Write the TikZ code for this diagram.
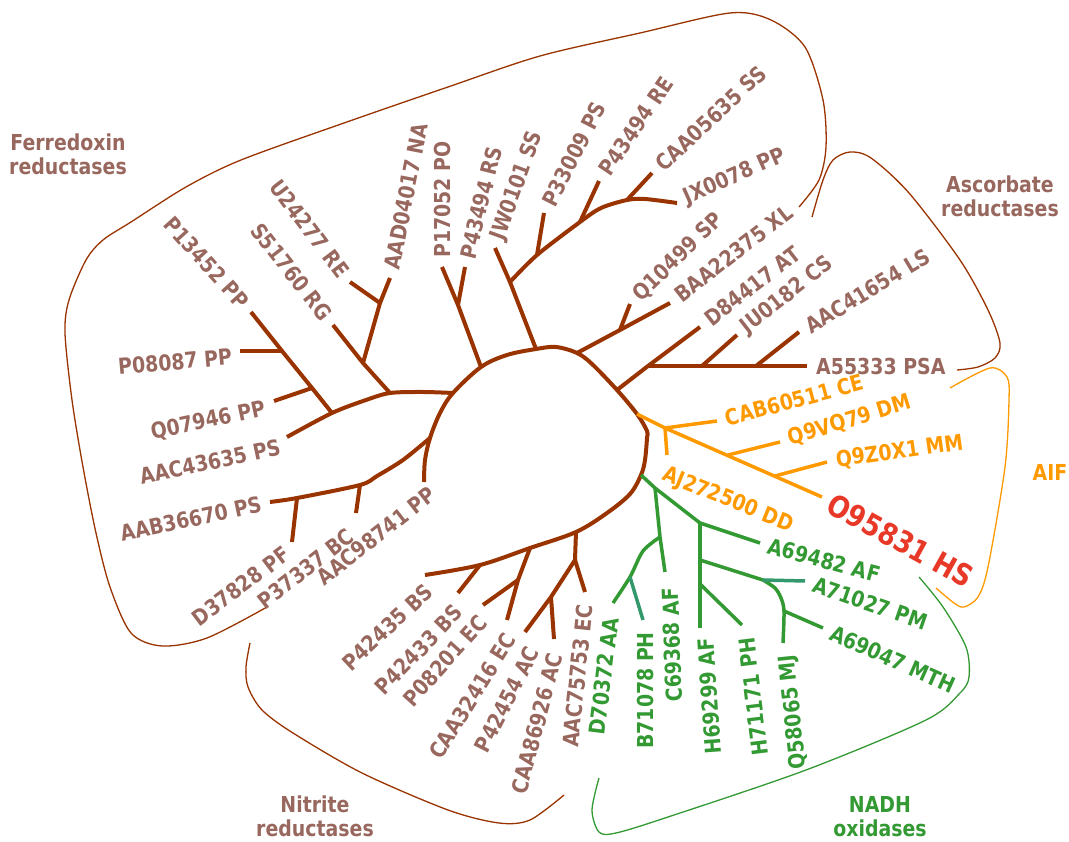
\documentclass[tikz,border=0pt]{standalone}
\usepackage{fontspec}
\setmainfont{DejaVu Sans}[FakeStretch=0.86]
\usepackage{tikz}
\definecolor{brn}{RGB}{153,51,0}
\definecolor{rose}{RGB}{152,104,95}
\definecolor{aif}{RGB}{255,153,0}
\definecolor{nadh}{RGB}{51,153,51}
\definecolor{nteal}{RGB}{51,153,108}
\definecolor{hs}{RGB}{232,56,40}
\tikzset{
  br/.style={line width=4pt, line join=round},
  bs/.style={line width=3.5pt, line join=round},
  grp/.style={line width=1.3pt},
  lf/.style={inner sep=0pt, inner xsep=9pt, font=\bfseries\fontsize{22}{24}\selectfont},
  gl/.style={align=center, inner sep=0pt, font=\bfseries\fontsize{22}{24}\selectfont},
}

\begin{document}
\begin{tikzpicture}[x=1pt,y=-1pt]
	\useasboundingbox (0,0) rectangle (1069,842);

	% central loop
	\coordinate (t1) at (424,482);
	\coordinate (l1) at (430,438);
	\coordinate (l2) at (453,393);
	\coordinate (l3) at (481,367);
	\coordinate (l4) at (536,349);
	\coordinate (l5) at (577,353);
	\coordinate (l6) at (617,390);
	\coordinate (l7) at (637,414);
	\coordinate (l8) at (641,475);
	\coordinate (l9) at (576,532);
	\coordinate (l10) at (530,548);
	\coordinate (l11) at (480,565);
	\coordinate (t2) at (425,575);
	\draw[br,brn] plot[smooth,tension=0.55] coordinates {(t1) (425,460) (l1) (440,413) (l2) (l3) (507,355) (l4) (556,347) (l5) (592,364) (l6) (l7) (647,431) (647,438) (645,460) (l8) (630,494) (607,513) (l9) (l10) (l11) (t2)};

	% ferredoxin
	\coordinate (f1) at (390,393);
	\coordinate (f2) at (332,413);
	\coordinate (t3) at (287,437);
	\coordinate (f3) at (312,388);
	\coordinate (f4) at (282,351);
	\coordinate (t4) at (251,312);
	\coordinate (t5) at (274,401);
	\coordinate (t6) at (240,351);
	\coordinate (f5) at (363,363);
	\coordinate (t7) at (333,325);
	\coordinate (f6) at (380,303);
	\coordinate (t8) at (390,278);
	\coordinate (t9) at (350,282);
	\coordinate (f7) at (458,305);
	\coordinate (t10) at (442,267);
	\coordinate (t11) at (465,267);
	\coordinate (f8) at (510,282);
	\coordinate (t12) at (495,248);
	\coordinate (f9) at (537,255);
	\coordinate (t13) at (544,213);
	\coordinate (f10) at (580,222);
	\coordinate (t14) at (599,181);
	\coordinate (f11) at (627,200);
	\coordinate (t15) at (652,173);
	\coordinate (t16) at (677,203);
	\coordinate (f16) at (360,485);
	\coordinate (f17) at (297,498);
	\coordinate (t43) at (270,502);
	\coordinate (t44) at (292,542);
	\coordinate (t45) at (356,513);
	\draw[br,brn] plot[smooth] coordinates {(l2) (423,392) (f1) (366,400) (f2) (t3)};
	\draw[br,brn] (f2)--(f3)--(f4)--(t4);
	\draw[br,brn] (f3)--(t5);
	\draw[br,brn] (f4)--(t6);
	\draw[br,brn] (f1)--(f5)--(t7);
	\draw[br,brn] (f5)--(f6)--(t8);
	\draw[br,brn] (f6)--(t9);
	\draw[br,brn] (l3)--(f7)--(t10);
	\draw[br,brn] (f7)--(t11);
	\draw[br,brn] (l4)--(f8)--(t12);
	\draw[br,brn] plot[smooth] coordinates {(f8) (f9) (f10) (601,208) (f11) (645,199) (t16)};
	\draw[br,brn] (f9)--(t13);
	\draw[br,brn] (f10)--(t14);
	\draw[br,brn] (f11)--(t15);
	\draw[br,brn] plot[smooth] coordinates {(l1) (403,460) (377,476) (f16) (f17) (t43)};
	\draw[br,brn] (f17)--(t44);
	\draw[br,brn] (f16)--(t45);

	% ascorbate
	\coordinate (f12) at (620,330);
	\coordinate (t17) at (670,303);
	\coordinate (t18) at (630,304);
	\coordinate (f13) at (648,366);
	\coordinate (t19) at (700,327);
	\coordinate (f14) at (702,366);
	\coordinate (f15) at (756,366);
	\coordinate (t20) at (807,366);
	\coordinate (t21) at (737,335);
	\coordinate (t22) at (799,332);
	\draw[br,brn] (l5)--(f12)--(t17);
	\draw[br,brn] (f12)--(t18);
	\draw[br,brn] (l6)--(f13)--(t19);
	\draw[br,brn] (f13)--(t20);
	\draw[br,brn] (f14)--(t21);
	\draw[br,brn] (f15)--(t22);

	% AIF
	\coordinate (a1) at (665,428);
	\coordinate (a2) at (728,455);
	\coordinate (a3) at (775,476);
	\coordinate (t23) at (822,497);
	\coordinate (t24) at (717,421);
	\coordinate (t25) at (667,455);
	\coordinate (t26) at (780,442);
	\coordinate (t27) at (827,462);
	\draw[bs,aif] (l7)--(a1)--(t23);
	\draw[bs,aif] (a1)--(t24);
	\draw[bs,aif] (a1)--(t25);
	\draw[bs,aif] (a2)--(t26);
	\draw[bs,aif] (a3)--(t27);

	% NADH
	\coordinate (g1) at (655,488);
	\coordinate (g2) at (700,523);
	\coordinate (g3) at (660,537);
	\coordinate (t28) at (665,572);
	\coordinate (g4) at (630,577);
	\coordinate (t29) at (613,603);
	\coordinate (t30) at (643,620);
	\coordinate (t31) at (760,543);
	\coordinate (g5) at (700,560);
	\coordinate (g6) at (700,584);
	\coordinate (t32) at (700,628);
	\coordinate (g7) at (763,580);
	\coordinate (g8) at (784,611);
	\coordinate (t33) at (783,643);
	\coordinate (t34) at (805,581);
	\coordinate (t35) at (823,628);
	\coordinate (t36) at (742,625);
	\draw[bs,nadh] (l8)--(g1)--(g2);
	\draw[bs,nadh] (g1)--(g3)--(t28);
	\draw[bs,nadh] plot[smooth] coordinates {(g3) (643,551) (g4) (t29)};
	\draw[bs,nteal] (g4)--(t30);
	\draw[bs,nadh] (g2)--(t31);
	\draw[bs,nadh] (g2)--(t32);
	\draw[bs,nadh] (g5)--(g7);
	\draw[bs,nadh] plot[smooth] coordinates {(g7) (775,588) (781,598) (g8) (t33)};
	\draw[bs,nteal] (g7)--(t34);
	\draw[bs,nadh] (g8)--(t35);
	\draw[bs,nadh] (g6)--(t36);

	% nitrite
	\coordinate (r1) at (575,560);
	\coordinate (r2) at (551,597);
	\coordinate (t37) at (525,632);
	\coordinate (t38) at (554,639);
	\coordinate (t39) at (585,592);
	\coordinate (r3) at (518,580);
	\coordinate (t40) at (507,620);
	\coordinate (t41) at (483,605);
	\coordinate (t42) at (458,593);
	\draw[br,brn] (l9)--(r1)--(r2)--(t37);
	\draw[br,brn] (r2)--(t38);
	\draw[br,brn] (r1)--(t39);
	\draw[br,brn] (l10)--(r3)--(t40);
	\draw[br,brn] (r3)--(t41);
	\draw[br,brn] (l11)--(t42);

	% group outlines
	\draw[grp,brn] plot[smooth] coordinates {(267,607) (207,638) (162,646) (131,633) (110,587) (96,533) (83,467) (72,400) (65,333) (69,300) (86,260) (103,240) (131,222) (186,187) (241,160) (344,123) (448,87) (540,56) (640,33) (730,13) (771,20) (805,47) (823,100) (826,147) (819,180) (799,207)};
	\draw[grp,brn] plot[smooth] coordinates {(812,217) (823,180) (833,160) (850,152) (871,158) (909,193) (960,260) (988,310) (1000,343) (995,358) (978,367) (957,370)};
	\draw[grp,aif] plot[smooth] coordinates {(950,388) (990,368) (1007,377) (1009,400) (1005,467) (988,567) (978,597) (964,607) (954,603) (936,588)};
	\draw[grp,nadh] plot[smooth] coordinates {(919,577) (943,607) (966,647) (969,677) (960,693) (926,720) (806,770) (668,817) (616,833) (599,832) (592,810) (599,778)};
	\draw[grp,brn] plot[smooth] coordinates {(250,643) (246,667) (248,687) (262,710) (293,733) (362,773) (448,810) (499,823) (530,820) (564,795)};

	% leaf labels
	\node[lf,rose,anchor=east,rotate=5] (nP08087) at (241,356) {P08087 PP};
	\node[lf,rose,anchor=east,rotate=12] (nQ07946) at (274,407) {Q07946 PP};
	\node[lf,rose,anchor=east,rotate=12] (nAAC43635) at (289,445) {AAC43635 PS};
	\node[lf,rose,anchor=east,rotate=12] (nAAB36670) at (t43) {AAB36670 PS};
	\node[lf,rose,anchor=east,rotate=37] (nD37828) at (294,546) {D37828 PF};
	\node[lf,rose,anchor=east,rotate=38] (nP37337) at (358,528) {P37337 BC};
	\node[lf,rose,anchor=east,rotate=38] (nAAC98741) at (440,486) {AAC98741 PP};
	\node[lf,rose,anchor=east,rotate=-48] (nP13452) at (t4) {P13452 PP};
	\node[lf,rose,anchor=east,rotate=-52] (nS51760) at (t7) {S51760 RG};
	\node[lf,rose,anchor=east,rotate=-53] (nU24277) at (t9) {U24277 RE};
	\node[lf,rose,anchor=west,rotate=79] (nAAD04017) at (t8) {AAD04017 NA};
	\node[lf,rose,anchor=west,rotate=90] (nP17052) at (t10) {P17052 PO};
	\node[lf,rose,anchor=west,rotate=76] (nP43494a) at (t11) {P43494 RS};
	\node[lf,rose,anchor=west,rotate=70] (nJW0101) at (t12) {JW0101 SS};
	\node[lf,rose,anchor=west,rotate=63] (nP33009) at (t13) {P33009 PS};
	\node[lf,rose,anchor=west,rotate=56] (nP43494b) at (t14) {P43494 RE};
	\node[lf,rose,anchor=west,rotate=43] (nCAA05635) at (t15) {CAA05635 SS};
	\node[lf,rose,anchor=west,rotate=24] (nJX0078) at (t16) {JX0078 PP};

	\node[lf,rose,anchor=west,rotate=44] (nQ10499) at (t18) {Q10499 SP};
	\node[lf,rose,anchor=west,rotate=38] (nBAA22375) at (t17) {BAA22375 XL};
	\node[lf,rose,anchor=west,rotate=38] (nD84417) at (t19) {D84417 AT};
	\node[lf,rose,anchor=west,rotate=38] (nJU0182) at (t21) {JU0182 CS};
	\node[lf,rose,anchor=west,rotate=31] (nAAC41654) at (t22) {AAC41654 LS};
	\node[lf,rose,anchor=west] (nA55333) at (t20) {A55333 PSA};

	\node[lf,aif,anchor=west,rotate=15] (nCAB60511) at (t24) {CAB60511 CE};
	\node[lf,aif,anchor=west,rotate=17] (nQ9VQ79) at (t26) {Q9VQ79 DM};
	\node[lf,aif,anchor=west,rotate=8] (nQ9Z0X1) at (t27) {Q9Z0X1 MM};
	\node[lf,hs,anchor=west,rotate=-29,font=\bfseries\fontsize{30}{32}\selectfont] (nO95831) at (t23) {O95831 HS};
	\node[lf,aif,anchor=west,rotate=-22] (nAJ272500) at (655,471) {AJ272500 DD};

	\node[lf,nadh,anchor=east,rotate=83] (nD70372) at (612,609) {D70372 AA};
	\node[lf,nadh,anchor=east,rotate=90] (nB71078) at (645,623) {B71078 PH};
	\node[lf,nadh,anchor=east,rotate=92] (nC69368) at (670,579) {C69368 AF};
	\node[lf,nadh,anchor=east,rotate=94] (nH69299) at (705,629) {H69299 AF};
	\node[lf,nadh,anchor=east,rotate=97] (nH71171) at (745,629) {H71171 PH};
	\node[lf,nadh,anchor=east,rotate=96] (nQ58065) at (787,646) {Q58065 MJ};
	\node[lf,nadh,anchor=west,rotate=-15] (nA69482) at (t31) {A69482 AF};
	\node[lf,nadh,anchor=west,rotate=-19] (nA71027) at (t34) {A71027 PM};
	\node[lf,nadh,anchor=west,rotate=-24] (nA69047) at (t35) {A69047 MTH};

	\node[lf,rose,anchor=east,rotate=43] (nP42435) at (436,582) {P42435 BS};
	\node[lf,rose,anchor=east,rotate=46] (nP42433) at (465,602) {P42433 BS};
	\node[lf,rose,anchor=east,rotate=48] (nP08201) at (489,612) {P08201 EC};
	\node[lf,rose,anchor=east,rotate=58] (nCAA32416) at (515,628) {CAA32416 EC};
	\node[lf,rose,anchor=east,rotate=63] (nP42454) at (537,640) {P42454 AC};
	\node[lf,rose,anchor=east,rotate=75] (nCAA86926) at (558,645) {CAA86926 AC};
	\node[lf,rose,anchor=east,rotate=84] (nAAC75753) at (586,596) {AAC75753 EC};

	% group names
	\node[gl,rose] (gFer) at (68,154) {Ferredoxin\\reductases};
	\node[gl,rose] (gAsc) at (1000,196) {Ascorbate\\reductases};
	\node[gl,aif] (gAif) at (1050,472) {AIF};
	\node[gl,nadh] (gNadh) at (880,817) {NADH\\oxidases};
	\node[gl,rose] (gNit) at (315,816) {Nitrite\\reductases};
\end{tikzpicture}
\end{document}
